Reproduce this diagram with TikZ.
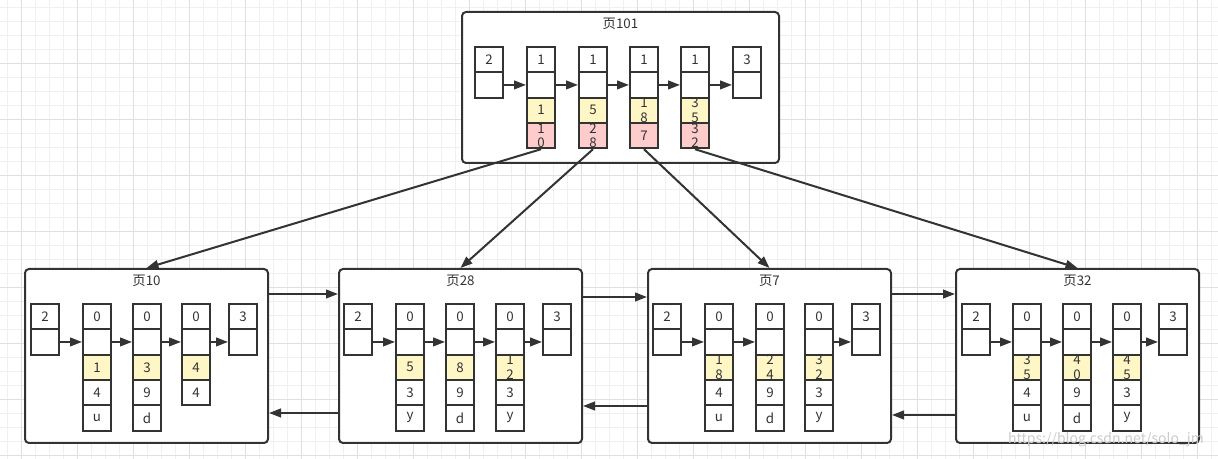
\documentclass[tikz,border=0pt]{standalone}
\usepackage{fontspec}
\setmainfont{Noto Sans CJK SC}
\usetikzlibrary{positioning, calc, arrows.meta}

\definecolor{ink}{HTML}{333333}
\definecolor{keyfill}{HTML}{FFF6C6}
\definecolor{ptrfill}{HTML}{FFCCCC}
\definecolor{gridmin}{HTML}{F0F0F0}
\definecolor{gridmaj}{HTML}{E0E0E0}

\begin{document}
\begin{tikzpicture}[x=0.75pt, y=-0.75pt]
		\tikzstyle{every node}=[text=ink, font=\fontsize{10}{10.7}\selectfont]
		\tikzstyle{cell}=[draw=ink, line width=1.5pt, fill=white, inner sep=0pt,
		minimum width=21pt, minimum height=19pt, align=center]
		\tikzstyle{key}=[cell, fill=keyfill]
		\tikzstyle{ptr}=[cell, fill=ptrfill]
		\tikzstyle{page}=[draw=ink, line width=1.5pt, fill=white, rounded corners=3pt]
		\tikzstyle{link}=[draw=ink, line width=1.5pt, -{Triangle[length=9pt, width=6.5pt]}]
		
		%% Fundo
		\useasboundingbox (0,0) rectangle (1218,459);
		\fill[white] (0,0) rectangle (1218,459);
		\foreach \gx in {7,21,...,1218} \draw[gridmin, line width=0.75pt] (\gx,0) -- (\gx,459);
		\foreach \gy in {8,22,...,459} \draw[gridmin, line width=0.75pt] (0,\gy) -- (1218,\gy);
		\foreach \gx in {21,77,...,1218} \draw[gridmaj, line width=0.75pt] (\gx,0) -- (\gx,459);
		\foreach \gy in {64,120,...,459} \draw[gridmaj, line width=0.75pt] (0,\gy) -- (1218,\gy);
		
		%% Paginas
		\foreach \pg/\cx/\cy/\w/\h in {101/620.5/87.5/317/151, 10/146.5/356/243/174,
			28/460.5/356/243/174, 7/769.5/356/243/174, 32/1077.5/356/243/174} {
			\node[page, minimum width=\w*0.75pt, minimum height=\h*0.75pt] (p\pg) at (\cx,\cy) {};
			\node (t\pg) at ([yshift=-9.75pt]p\pg.north) {页\pg};
		}
		
		%% Registros
		\foreach \colname/\xc/\ytop/\cells in {
			p101a/489/47/{cell/2,cell/},
			p101b/541/47/{cell/1,cell/,key/1,ptr/{1\\0}},
			p101c/593/47/{cell/1,cell/,key/5,ptr/{2\\8}},
			p101d/644/47/{cell/1,cell/,key/{1\\8},ptr/7},
			p101e/695/47/{cell/1,cell/,key/{3\\5},ptr/{3\\2}},
			p101f/747/47/{cell/3,cell/},
			p10a/45/304/{cell/2,cell/},
			p10b/97/304/{cell/0,cell/,key/1,cell/4,cell/u},
			p10c/147/304/{cell/0,cell/,key/3,cell/9,cell/d},
			p10d/196/304/{cell/0,cell/,key/4,cell/4},
			p10e/243/304/{cell/3,cell/},
			p28a/358/304/{cell/2,cell/},
			p28b/410/304/{cell/0,cell/,key/5,cell/3,cell/y},
			p28c/460/304/{cell/0,cell/,key/8,cell/9,cell/d},
			p28d/510/304/{cell/0,cell/,key/{1\\2},cell/3,cell/y},
			p28e/557/304/{cell/3,cell/},
			p7a/667/304/{cell/2,cell/},
			p7b/719/304/{cell/0,cell/,key/{1\\8},cell/4,cell/u},
			p7c/770/304/{cell/0,cell/,key/{2\\4},cell/9,cell/d},
			p7d/819/304/{cell/0,cell/,key/{3\\2},cell/3,cell/y},
			p7e/866/304/{cell/3,cell/},
			p32a/976/304/{cell/2,cell/},
			p32b/1027/304/{cell/0,cell/,key/{3\\5},cell/4,cell/u},
			p32c/1077/304/{cell/0,cell/,key/{4\\0},cell/9,cell/d},
			p32d/1127/304/{cell/0,cell/,key/{4\\5},cell/3,cell/y},
			p32e/1173/304/{cell/3,cell/}}
		\foreach \sty/\txt [count=\row] in \cells
		\node[\sty] (\colname-\row) at (\xc,{\ytop+25.3*\row-12.65}) {\txt};
		
		% Ponteiros entre registros
		\foreach \a/\b in {p101a/p101b, p101b/p101c, p101c/p101d, p101d/p101e, p101e/p101f,
			p10a/p10b, p10b/p10c, p10c/p10d, p10d/p10e, p28a/p28b, p28b/p28c, p28c/p28d, p28d/p28e,
			p7a/p7b, p7b/p7c, p7d/p7e, p32a/p32b, p32b/p32c, p32c/p32d, p32d/p32e}
		\draw[link] (\a-2) -- (\b-2);
		
		% Filhos da raiz
		\foreach \a/\b in {p101b/p10, p101c/p28, p101d/p7, p101e/p32}
		\draw[link] (\a-4.south) -- (\b.north);
		
		% Lista duplamente ligada
		\foreach \a/\b/\yf/\yb in {p10/p28/294/413, p28/p7/297/406, p7/p32/294/415} {
			\draw[link] (\a.east |- 0,\yf) -- (\b.west |- 0,\yf);
			\draw[link] (\b.west |- 0,\yb) -- (\a.east |- 0,\yb);
		}
		
		\node[text=gray!40, font=\fontsize{10.5}{12}\selectfont] (marca) at (1106,440) {https://blog.csdn.net/solo\_jm};
	\end{tikzpicture}
\end{document}
